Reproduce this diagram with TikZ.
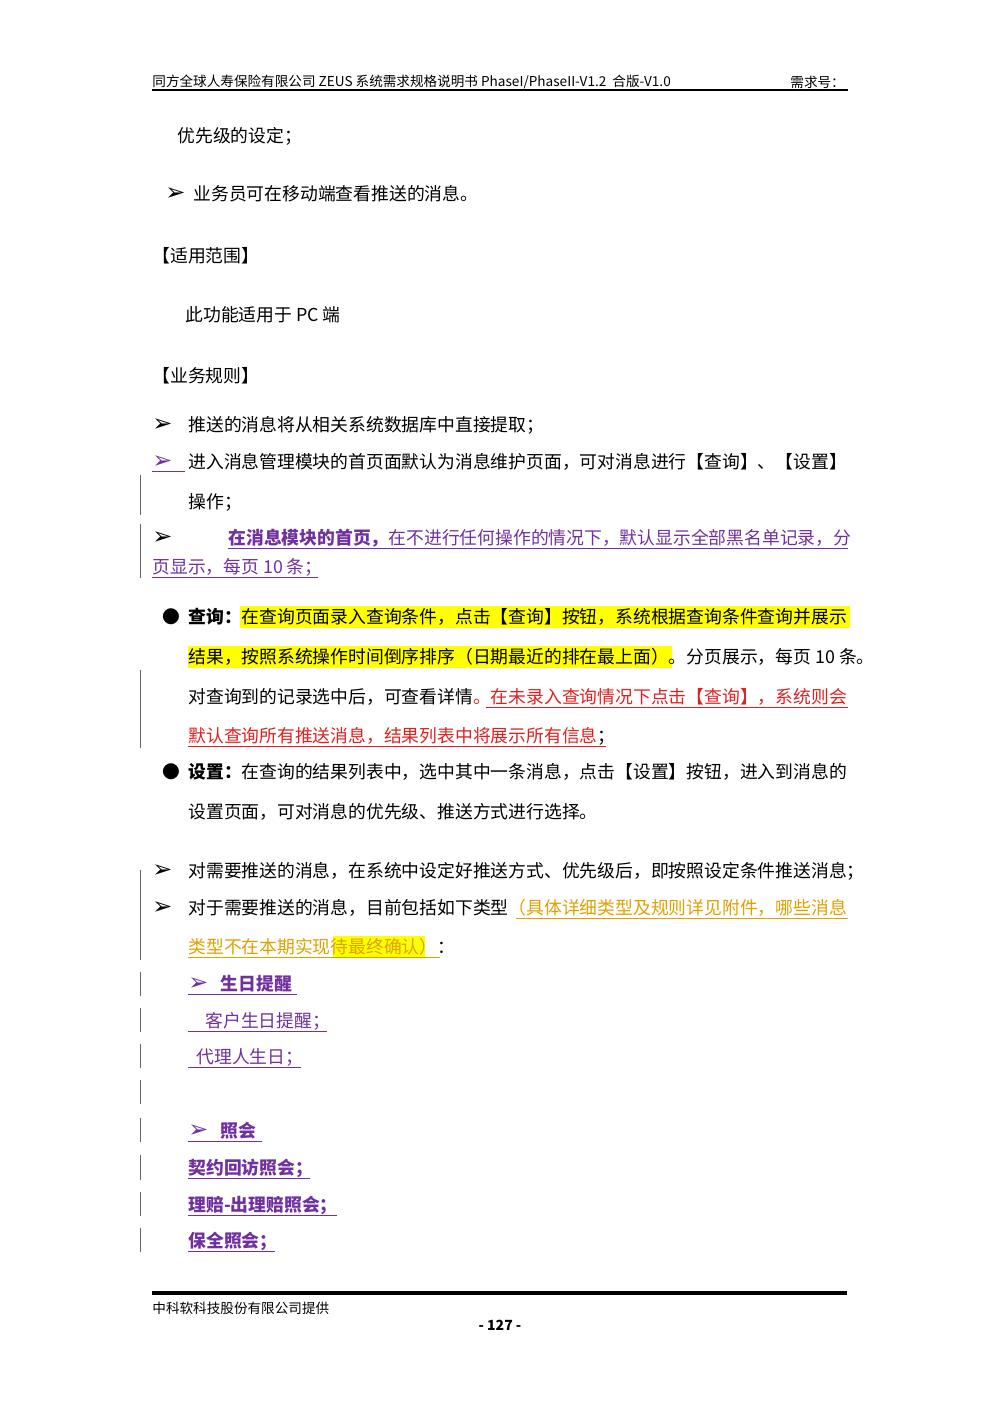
\documentclass[tikz,border=0pt]{standalone}
\usepackage{fontspec}
\setmainfont{Noto Sans CJK SC}
\newfontfamily\dv{DejaVu Sans}
\definecolor{pur}{HTML}{7030A0}
\definecolor{rd}{HTML}{E02020}
\definecolor{org}{HTML}{E0A000}
\definecolor{hl}{HTML}{FFFF00}
\newcommand{\arr}{{\dv\large ➢}}
\begin{document}
\begin{tikzpicture}[x=0.5pt,y=-0.5pt,
  t/.style={anchor=west,inner sep=0,font=\fontsize{8.9}{10}\selectfont},
  sm/.style={anchor=west,inner sep=0,font=\fontsize{6.8}{8}\selectfont},
  ul/.style={line width=0.5pt},
  bar/.style={line width=0.4pt,black!60}]
\useasboundingbox (0,0) rectangle (1000,1415);
% header
\node[sm] (h1) at (152,82) {同方全球人寿保险有限公司 ZEUS 系统需求规格说明书 PhaseI/PhaseII-V1.2\ \ 合版-V1.0};
\node[sm] (h2) at (790,82) {需求号：};
\draw[line width=0.6pt] (152,90) -- (848,90);
\node[t] (a1) at (177,136) {优先级的设定；};
\node[t] (a2) at (165,194) {\arr\ \ 业务员可在移动端查看推送的消息。};
\node[t] (a3) at (152,256) {【适用范围】};
\node[t] (a4) at (185,315) {此功能适用于 PC 端};
\node[t] (a5) at (152,376) {【业务规则】};
\node[t] (b0) at (152,425) {\arr};
\node[t] (b1) at (188,425) {推送的消息将从相关系统数据库中直接提取；};
\node[t,pur] (c0) at (152,462) {\arr};
\draw[ul,pur] (152,471) -- (185,471);
\node[t] (c1) at (188,462) {进入消息管理模块的首页面默认为消息维护页面，可对消息进行【查询】、【设置】};
\node[t] (c2) at (188,502) {操作；};
\draw[bar] (140,475) -- (140,515);
\node[t] (d0) at (152,538) {\arr};
\node[t,pur] (d1) at (228,538) {\textbf{在消息模块的首页，}在不进行任何操作的情况下，默认显示全部黑名单记录，分};
\draw[ul,pur] (228,548) -- (848,548);
\node[t,pur] (d2) at (152,567) {页显示，每页 10 条；};
\draw[ul,pur] (152,577) -- (318,577);
\draw[bar] (140,524) -- (140,578);
% query
\node[t] (e0) at (162,617) {●};
\fill[hl] (240,606) rectangle (850,628);
\node[t] (e1) at (188,617) {\textbf{查询：}在查询页面录入查询条件，点击【查询】按钮，系统根据查询条件查询并展示};
\fill[hl] (188,646) rectangle (672,668);
\node[t] (e2) at (188,657) {结果，按照系统操作时间倒序排序（日期最近的排在最上面）。分页展示，每页 10 条。};
\node[t] (e3) at (188,697) {对查询到的记录选中后，可查看详情\textcolor{rd}{。在未录入查询情况下点击【查询】，系统则会}};
\draw[ul,rd] (486,707) -- (848,707);
\node[t] (e4) at (188,736) {\textcolor{rd}{默认查询所有推送消息，结果列表中将展示所有信息}；};
\draw[ul,rd] (188,746) -- (606,746);
\draw[bar] (140,670) -- (140,748);
\node[t] (f0) at (162,772) {●};
\node[t] (f1) at (188,772) {\textbf{设置：}在查询的结果列表中，选中其中一条消息，点击【设置】按钮，进入到消息的};
\node[t] (f2) at (188,812) {设置页面，可对消息的优先级、推送方式进行选择。};
\node[t] (g0) at (152,871) {\arr};
\node[t] (g1) at (188,871) {对需要推送的消息，在系统中设定好推送方式、优先级后，即按照设定条件推送消息；};
\node[t] (h0) at (152,908) {\arr};
\node[t] (h1b) at (188,908) {对于需要推送的消息，目前包括如下类型\textcolor{org}{（具体详细类型及规则详见附件，哪些消息}};
\draw[ul,org] (516,918) -- (848,918);
\fill[hl] (333,936) rectangle (425,958);
\node[t] (h2b) at (188,947) {\textcolor{org}{类型不在本期实现待最终确认）}：};
\draw[ul,org] (188,957) -- (440,957);
\draw[bar] (140,870) -- (140,960);
% types
\node[t,pur] (i1) at (188,984) {\textbf{\arr\ \ \ 生日提醒}};
\draw[ul,pur] (188,994) -- (297,994);
\node[t,pur] (i2) at (205,1021) {客户生日提醒；};
\draw[ul,pur] (188,1031) -- (327,1031);
\node[t,pur] (i3) at (196,1057) {代理人生日；};
\draw[ul,pur] (188,1067) -- (301,1067);
\node[t,pur] (j1) at (188,1131) {\textbf{\arr\ \ \ 照会}};
\draw[ul,pur] (188,1141) -- (262,1141);
\node[t,pur] (j2) at (188,1168) {\textbf{契约回访照会；}};
\draw[ul,pur] (188,1178) -- (310,1178);
\node[t,pur] (j3) at (188,1205) {\textbf{理赔-出理赔照会；}};
\draw[ul,pur] (188,1215) -- (337,1215);
\node[t,pur] (j4) at (188,1241) {\textbf{保全照会；}};
\draw[ul,pur] (188,1251) -- (275,1251);
\foreach \a/\b in {972/996,1008/1032,1044/1068,1080/1104,1118/1142,1155/1180,1192/1216,1228/1252}
  \draw[bar] (140,\a) -- (140,\b);
% footer
\draw[line width=2pt] (152,1293) -- (847,1293);
\node[sm] (ft) at (152,1308) {中科软科技股份有限公司提供};
\node[inner sep=0,font=\fontsize{7}{8}\selectfont\bfseries] (pg) at (500,1325) {- 127 -};
\end{tikzpicture}
\end{document}
